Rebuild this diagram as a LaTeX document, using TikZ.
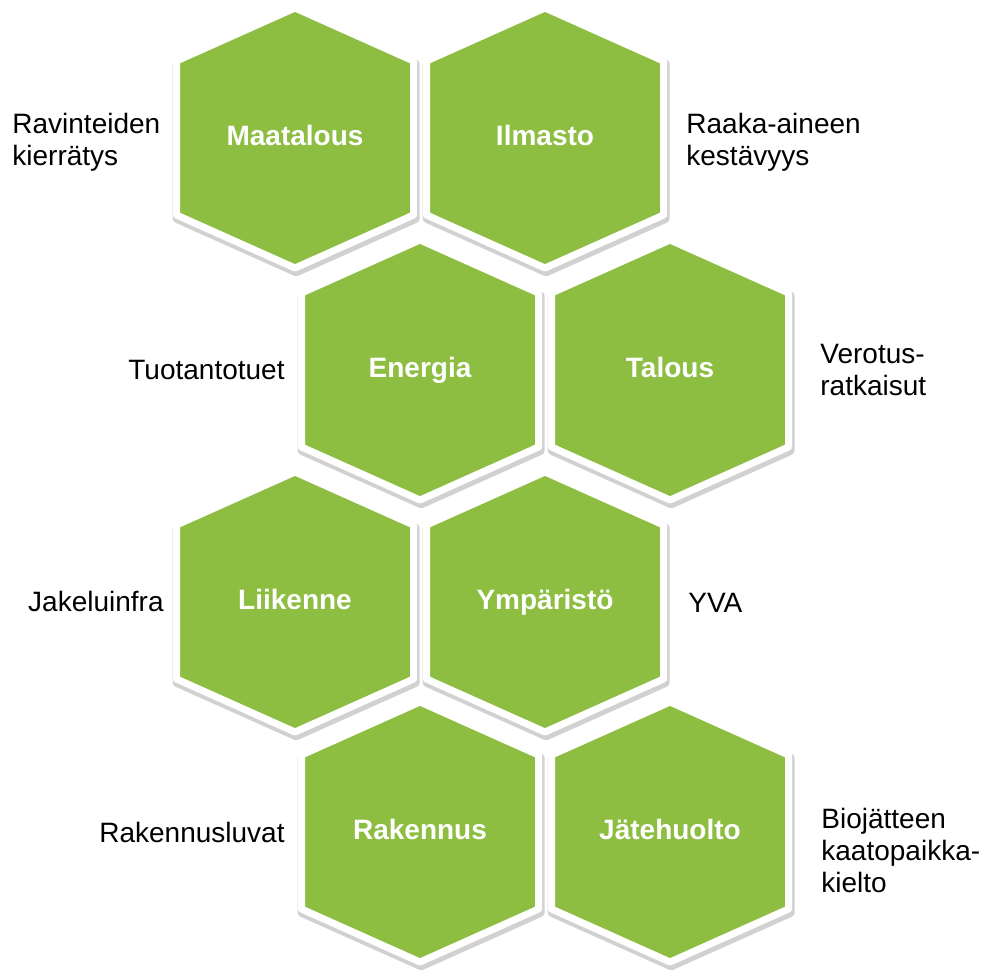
\documentclass[tikz,border=0pt]{standalone}
\usepackage{fontspec}
\setmainfont{Liberation Sans}
\definecolor{lehti}{RGB}{141,190,66}
\tikzset{
  kenno/.style={fill=lehti, draw=white, line width=3.5pt, line join=round,
    preaction={draw=black, draw opacity=0.18, line width=5pt, line join=round,
      transform canvas={shift={(0.6pt,-1.6pt)}}}},
  otsikko/.style={text=white, font=\bfseries\fontsize{14}{16}\selectfont,
    text height=10pt, text depth=3pt},
  selite/.style={font=\fontsize{14}{16}\selectfont, align=left, inner sep=0pt},
}
\begin{document}
\begin{tikzpicture}[x=0.5pt, y=-0.5pt]
  \useasboundingbox (0,0) rectangle (984,974);

  % Kennot (keskipiste x/y, nimi, teksti)
  \foreach \x/\y/\nimi/\teksti in {
      295/138/maatalous/Maatalous, 545/138/ilmasto/Ilmasto,
      420/370/energia/Energia, 670/370/talous/Talous,
      295/602/liikenne/Liikenne, 545/602/ymparisto/Ympäristö,
      420/832/rakennus/Rakennus, 670/832/jatehuolto/Jätehuolto} {
    \draw[kenno] (\x,\y) ++(0,-130) -- ++(118.5,53) -- ++(0,154) -- ++(-118.5,53)
      -- ++(-118.5,-53) -- ++(0,-154) -- cycle;
    \node[otsikko] (\nimi) at (\x,\y) {\teksti};
  }

  % Selitteet vasemmalla
  \node[selite, anchor=west] (ravinteet) at (12,142) {Ravinteiden\\kierrätys};
  \node[selite, anchor=east] (tuet) at (285,370) {Tuotantotuet};
  \node[selite, anchor=east] (jakelu) at (164,601) {Jakeluinfra};
  \node[selite, anchor=east] (luvat) at (285,832) {Rakennusluvat};

  % Selitteet oikealla
  \node[selite, anchor=west] (raaka) at (686,142) {Raaka-aineen\\kestävyys};
  \node[selite, anchor=west] (verotus) at (820,370) {Verotus-\\ratkaisut};
  \node[selite, anchor=west] (yva) at (688,603) {YVA};
  \node[selite, anchor=west] (biojate) at (821,850) {Biojätteen\\kaatopaikka-\\kielto};
\end{tikzpicture}
\end{document}
